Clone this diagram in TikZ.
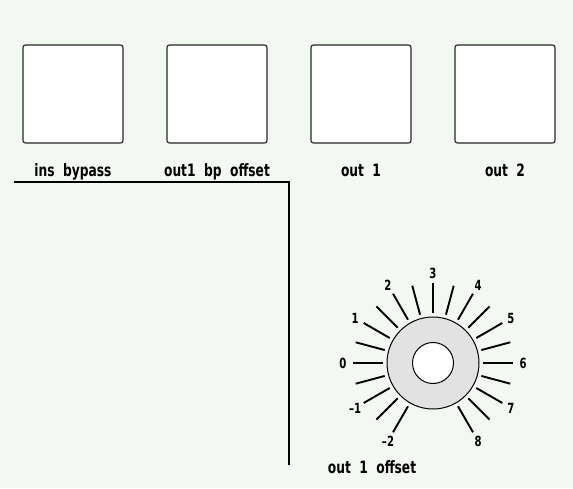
\documentclass[tikz,border=0pt]{standalone}
\usepackage{fontspec}
\setmainfont{DejaVu Sans Condensed}
\newfontfamily\panelfont[FakeStretch=0.8]{DejaVu Sans Condensed}
\usetikzlibrary{positioning,calc}
\definecolor{panelbg}{RGB}{244,248,242}
\definecolor{knobgray}{RGB}{226,226,226}
\tikzset{
  btn/.style={draw=black!85, line width=1.1pt, fill=white, rounded corners=2.5pt,
    minimum width=100pt, minimum height=98pt, inner sep=0pt},
  btnlabel/.style={font=\panelfont\bfseries\fontsize{17}{17}\selectfont, inner sep=0pt},
  dialnum/.style={font=\panelfont\bfseries\fontsize{14}{14}\selectfont, inner sep=0pt},
  dialtick/.style={line width=1.9pt}
}
\newcommand{\wsp}{\hspace{0.5em}}
\begin{document}
\begin{tikzpicture}[x=1pt,y=1pt]
  % panel background
  \fill[panelbg] (0,0) rectangle (573,488);
  \useasboundingbox (0,0) rectangle (573,488);
  % buttons
  \node[btn] (insbp) at (73,394) {};
  \node[btn] (outbp) at (217,394) {};
  \node[btn] (outone) at (361,394) {};
  \node[btn] (outtwo) at (505,394) {};
  \node[btnlabel, below=20pt of insbp.south] {ins\wsp bypass};
  \node[btnlabel, below=20pt of outbp.south] {out1\wsp bp\wsp offset};
  \node[btnlabel, below=20pt of outone.south] {out\wsp 1};
  \node[btnlabel, below=20pt of outtwo.south] {out\wsp 2};
  % frame line
  \draw[line width=1.5pt] (14,306) -- (289,306) -- (289,23);
  % offset knob
  \coordinate (knob) at (433,125);
  \foreach \a in {240,225,...,-60}
    \draw[dialtick] ($(knob)+(\a:50)$) -- ($(knob)+(\a:80)$);
  \foreach \v [count=\i from 0] in {–2,–1,0,1,2,3,4,5,6,7,8}
    \node[dialnum] at ($(knob)+({240-30*\i}:90)$) {\v};
  \draw[line width=1pt, fill=knobgray] (knob) circle (46);
  \draw[line width=1pt, fill=white] (knob) circle (20.5);
  \node[btnlabel] (knoblbl) at (372,21) {out\wsp 1\wsp offset};
\end{tikzpicture}
\end{document}
